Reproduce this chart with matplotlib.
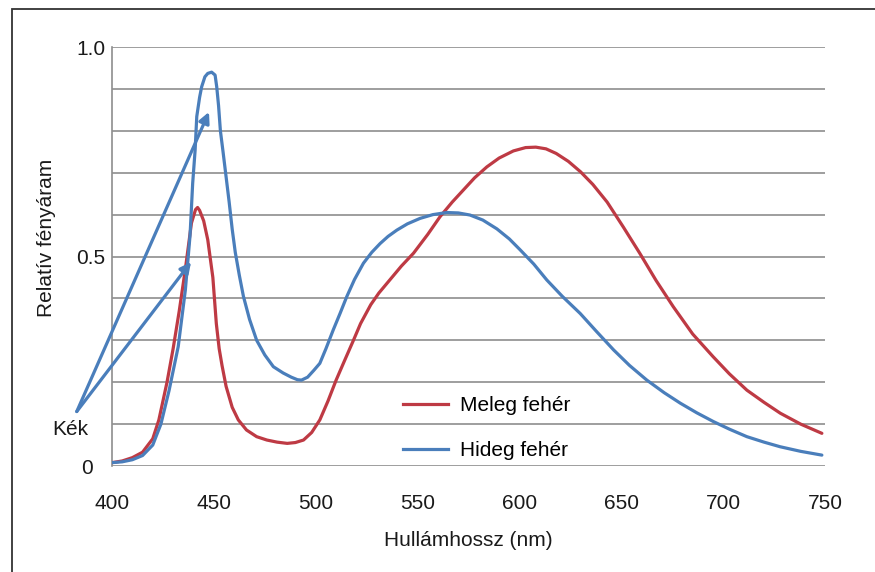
import matplotlib.pyplot as plt
from matplotlib.patches import Rectangle
from matplotlib.lines import Line2D
from matplotlib.transforms import ScaledTranslation

plt.rcParams['font.family'] = ['Liberation Sans', 'DejaVu Sans']

# Meleg fehér (warm white)
warm_nm = [400, 405, 410, 415, 420, 423, 427, 430, 433, 436, 439, 441, 442, 443,
           445, 447, 449.5, 451.2, 452.6, 454, 456, 459, 462, 466, 471, 476, 481,
           486, 490, 494, 498, 502, 506, 510, 514, 518.5, 522, 527, 531, 536.5,
           542, 548, 555, 561, 567, 572.5, 578, 584, 590, 597, 603, 608, 613, 618,
           624, 630, 636, 643, 651, 659, 667, 675.5, 685, 695, 703, 711.6, 720,
           728, 738, 748.4]
warm_val = [0.008, 0.012, 0.02, 0.033, 0.065, 0.11, 0.2, 0.28, 0.37, 0.47, 0.58,
            0.612, 0.617, 0.61, 0.585, 0.54, 0.45, 0.34, 0.28, 0.24, 0.19, 0.14,
            0.11, 0.086, 0.07, 0.062, 0.057, 0.054, 0.056, 0.062, 0.08, 0.11,
            0.155, 0.205, 0.25, 0.30, 0.34, 0.385, 0.413, 0.445, 0.477, 0.508,
            0.553, 0.595, 0.63, 0.659, 0.688, 0.714, 0.735, 0.752, 0.76, 0.761,
            0.757, 0.746, 0.727, 0.702, 0.672, 0.63, 0.57, 0.508, 0.443, 0.38,
            0.315, 0.261, 0.22, 0.181, 0.152, 0.126, 0.1, 0.078]

# Hideg fehér (cool white)
cool_nm = [400, 405, 410, 415, 420, 424, 428, 432.5, 436, 438.3, 439.6, 440.8,
           441.6, 443, 444, 445.6, 447, 448.9, 450.6, 451.4, 452.3, 453.2, 454.5,
           456, 457.5, 459, 460.5, 462.5, 464.5, 467.5, 471, 475, 479.2, 484, 488,
           491, 493, 496, 499, 502, 505, 508.6, 512, 515.2, 519, 523.4, 527.5,
           531.6, 535.5, 539.8, 545, 551.2, 557.5, 564.3, 570, 575.7, 582, 588.9,
           595, 600.3, 607, 613.4, 621, 629.8, 638, 646.2, 654, 662.5, 671, 678.9,
           687, 695.2, 703, 711.6, 720, 727.9, 738, 748.4]
cool_val = [0.008, 0.01, 0.015, 0.025, 0.05, 0.1, 0.18, 0.285, 0.42, 0.55, 0.675,
            0.754, 0.834, 0.88, 0.905, 0.929, 0.937, 0.94, 0.933, 0.905, 0.86,
            0.80, 0.75, 0.69, 0.63, 0.565, 0.51, 0.455, 0.405, 0.35, 0.30, 0.265,
            0.237, 0.222, 0.212, 0.206, 0.205, 0.212, 0.228, 0.245, 0.28, 0.325,
            0.365, 0.404, 0.445, 0.484, 0.51, 0.531, 0.548, 0.563, 0.578, 0.591,
            0.6, 0.605, 0.604, 0.599, 0.587, 0.566, 0.542, 0.516, 0.482, 0.444,
            0.405, 0.364, 0.32, 0.277, 0.24, 0.205, 0.175, 0.15, 0.127, 0.106,
            0.088, 0.07, 0.057, 0.046, 0.035, 0.026]

x_ticks = [400, 450, 500, 550, 600, 650, 700, 750]
y_ticks = [0, 0.5, 1.0]
y_ticklabels = ["0", "0.5", "1.0"]

# "Kék" annotation: label point, arrow start and arrow tips (data coords)
kek_text_xy = (379.4, 0.086)
kek_xy = (382.7, 0.13)
arrow_tips = [(447.6, 0.845), (438.8, 0.487)]

RED = "#BE3A44"
BLUE = "#4A7EBB"
GRID = "#8E8E8E"
TEXT = "#1a1a1a"
FS = 15

fig = plt.figure(figsize=(8.75, 5.72), dpi=100)
ax = fig.add_axes([0.128, 0.1853, 0.815, 0.7325])

# outer frame (right and bottom edges run off the picture)
fig.patches.append(Rectangle((0.0137, -0.1), 1.2, 0.984 + 0.1, transform=fig.transFigure,
                             fill=False, edgecolor="#333333", lw=1.3))

ax.plot(warm_nm, warm_val, color=RED, lw=2.3, solid_capstyle="round", zorder=3)
ax.plot(cool_nm, cool_val, color=BLUE, lw=2.3, solid_capstyle="round", zorder=3)

ax.set_xlim(400, 750)
ax.set_ylim(0, 1.0)
ax.set_xticks(x_ticks)
ax.set_yticks(y_ticks)
ax.set_yticklabels(y_ticklabels)
for v in [i / 10 for i in range(11)]:
    ax.axhline(v, color=GRID, lw=1.2, zorder=1)

for s in ["top", "right", "bottom"]:
    ax.spines[s].set_visible(False)
ax.spines["left"].set_color(GRID)
ax.spines["left"].set_linewidth(1.2)
ax.tick_params(axis="both", which="both", length=0, labelsize=FS, colors=TEXT)
ax.tick_params(axis="y", pad=5)
ax.tick_params(axis="x", pad=20)

# the "0" label sits a bit further left in the original
zero_lab = ax.yaxis.get_major_ticks()[0].label1
zero_lab.set_transform(zero_lab.get_transform() +
                       ScaledTranslation(-0.12, 0, fig.dpi_scale_trans))

ax.set_xlabel("Hullámhossz (nm)", fontsize=FS, labelpad=13, color=TEXT)
fig.text(47 / 875, 1 - 238 / 572, "Relatív fényáram", rotation=90, fontsize=FS,
         ha="center", va="center", color=TEXT)

ax.text(*kek_text_xy, "Kék", fontsize=FS, ha="center", va="center", color=TEXT,
        clip_on=False)
for tip in arrow_tips:
    ax.annotate("", xy=tip, xytext=kek_xy, annotation_clip=False,
                arrowprops=dict(arrowstyle="-|>", color=BLUE, lw=2.3,
                                mutation_scale=16, shrinkA=0, shrinkB=0))

handles = [Line2D([], [], color=RED, lw=2.3), Line2D([], [], color=BLUE, lw=2.3)]
ax.legend(handles, ["Meleg fehér", "Hideg fehér"], frameon=False, fontsize=FS,
          loc="upper left", bbox_to_anchor=(0.408, 0.167), borderpad=0,
          borderaxespad=0, handlelength=2.16, handletextpad=0.58, labelspacing=1.25)

fig.savefig("out.png", dpi=100)
